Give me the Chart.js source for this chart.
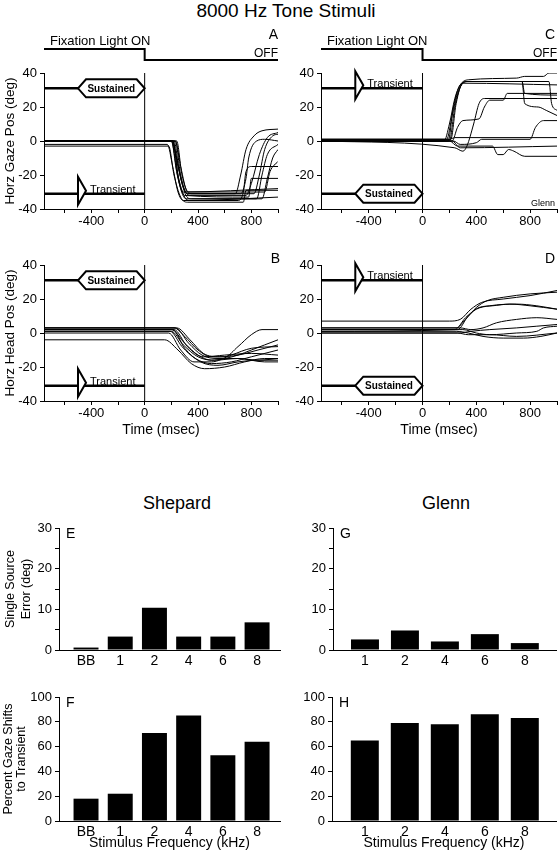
<!DOCTYPE html>
<html>
<head>
<meta charset="utf-8">
<script src="https://cdn.jsdelivr.net/npm/chart.js@4.4.0/dist/chart.umd.min.js"></script>
<style>
  body { margin: 0; background: #fff; width: 558px; height: 852px; position: relative; overflow: hidden;
         font-family: "Liberation Sans", Arial, sans-serif; }
  canvas { position: absolute; }
  .t { position: absolute; color: #000; white-space: nowrap; text-align: center; line-height: 1; }
</style>
</head>
<body>
<div class="t" style="left:0;width:572px;top:1px;font-size:19px">8000 Hz Tone Stimuli</div>
<div class="t" style="left:77px;width:200px;top:494px;font-size:18px">Shepard</div>
<div class="t" style="left:346px;width:200px;top:494px;font-size:18px">Glenn</div>

<canvas id="chartA"></canvas>
<canvas id="chartB"></canvas>
<canvas id="chartC"></canvas>
<canvas id="chartD"></canvas>
<canvas id="chartE"></canvas>
<canvas id="chartF"></canvas>
<canvas id="chartG"></canvas>
<canvas id="chartH"></canvas>

<script>
// ---- data ----
// gaze / head traces: [time (msec), position (deg)]
const gazeShepard = [
  [[-755, 0], [200, 0], [240, -10], [280, -25], [320, -31], [680, -31], [720, -20], [760, -5], [820, 3], [880, 6], [1000, 7]],
  [[-755, 0], [210, 0], [250, -15], [300, -29], [340, -32], [760, -32], [800, -25], [860, -8], [920, 2], [1000, 5]],
  [[-755, -2], [170, -2], [210, -15], [250, -30], [290, -35], [700, -35], [740, -30], [760, -18], [800, -15], [1000, -15]],
  [[-755, 0], [230, 0], [270, -15], [320, -30], [360, -31], [820, -31], [860, -20], [900, -5], [960, 3], [1000, 4]],
  [[-755, 0], [220, 0], [260, -18], [310, -32], [350, -34], [880, -34], [920, -22], [960, -10], [1000, -5]],
  [[-755, 0], [240, 0], [280, -20], [330, -30], [900, -30], [940, -18], [1000, -12]],
  [[-755, -3], [180, -3], [220, -20], [270, -33], [320, -36], [740, -36], [760, -29], [1000, -29]],
  [[-755, 0], [200, 0], [250, -22], [300, -32], [780, -33], [800, -22], [1000, -22]],
  [[-755, 0], [210, 0], [250, -20], [300, -33], [340, -35], [1000, -33]],
  [[-755, 0], [200, 0], [240, -18], [290, -30], [1000, -28]],
  [[-755, 0], [230, 0], [270, -20], [320, -31], [720, -31], [760, -22], [780, -10], [840, 0], [900, 1], [1000, 0]],
  [[-755, 0], [210, 0], [260, -25], [310, -34], [840, -34], [880, -20], [920, -8], [1000, -2]]
];
const headShepard = [
  [[-755, 3], [220, 3], [300, -2], [400, -10], [500, -14], [600, -14], [700, -8], [800, -1], [880, 2], [1000, 2]],
  [[-755, 2], [200, 2], [300, -6], [400, -13], [500, -16], [600, -15], [700, -13], [800, -10], [900, -7], [1000, -4]],
  [[-755, 1], [190, 1], [280, -8], [380, -15], [500, -18], [650, -17], [800, -14], [1000, -10]],
  [[-755, -4], [150, -4], [250, -10], [350, -18], [450, -21], [600, -20], [750, -17], [900, -15], [1000, -15]],
  [[-755, 3], [230, 3], [330, -6], [430, -13], [550, -15], [700, -15], [850, -16], [1000, -15]],
  [[-755, 2], [210, 2], [300, -9], [420, -17], [550, -19], [700, -17], [850, -16], [1000, -16]],
  [[-755, 0], [180, 0], [270, -10], [370, -17], [500, -17], [650, -13], [800, -9], [1000, -8]],
  [[-755, 3], [240, 3], [340, -4], [440, -12], [560, -14], [700, -13], [850, -10], [1000, -7]],
  [[-755, 1], [200, 1], [290, -7], [400, -14], [520, -16], [700, -15], [900, -17], [1000, -17]],
  [[-755, 2], [220, 2], [320, -8], [440, -14], [600, -13], [800, -12], [1000, -13]]
];
const gazeGlenn = [
  [[-755, 0], [160, 0], [200, 10], [240, 25], [280, 33], [340, 36], [700, 37], [760, 38], [900, 38], [940, 40], [1000, 40]],
  [[-755, 1], [180, 1], [220, 15], [260, 28], [320, 35], [740, 35], [760, 28], [1000, 27]],
  [[-755, 0], [200, 0], [240, 20], [290, 33], [340, 35], [940, 35], [960, 22], [1000, 18]],
  [[-755, 1], [210, 1], [250, 22], [300, 34], [1000, 33]],
  [[-755, 0], [220, 0], [260, 8], [300, 12], [420, 13], [460, 20], [500, 24], [600, 24], [630, 28], [1000, 28]],
  [[-755, 0], [240, -4], [300, -6], [330, -3], [380, 10], [420, 22], [460, 25], [1000, 25]],
  [[-755, 0], [230, 0], [280, -2], [400, -1], [440, 1], [800, 1], [840, 8], [900, 12], [1000, 12]],
  [[-755, 0], [200, 0], [260, -3], [520, -3], [560, -8], [600, -8], [640, -5], [680, -6], [760, -9], [1000, -9]],
  [[-755, 0], [220, 0], [280, -4], [1000, -3]],
  [[-755, 1], [200, 1], [240, 2], [1000, 2]],
  [[-755, 0], [190, 0], [230, 20], [280, 33], [340, 35], [740, 35], [760, 22], [860, 20], [920, 18], [1000, 15]]
];
const headGlenn = [
  [[-755, 7], [200, 7], [280, 8], [360, 14], [440, 18], [600, 20], [800, 22], [1000, 25]],
  [[-755, 3], [250, 3], [320, 8], [400, 15], [480, 19], [600, 21], [800, 23], [1000, 24]],
  [[-755, 2], [260, 2], [340, 10], [420, 15], [520, 16], [650, 17], [800, 16], [1000, 14]],
  [[-755, 1], [240, 2], [320, 9], [400, 14], [500, 16], [700, 17], [850, 16], [1000, 14]],
  [[-755, 3], [280, 3], [360, 2], [450, 3], [550, 6], [700, 8], [850, 9], [1000, 8]],
  [[-755, 0], [270, 0], [360, 1], [500, 2], [700, 3], [850, 4], [1000, 5]],
  [[-755, 1], [250, 1], [340, 0], [450, -2], [600, -3], [750, -3], [880, -2], [1000, 0]],
  [[-755, 2], [300, 2], [400, 0], [500, -1], [700, 0], [850, 1], [900, 3], [1000, 4]],
  [[-755, 0], [260, 0], [340, -1], [500, -1], [700, -2], [1000, 0]]
];

const timeLabels = [-400, 0, 400, 800];
const stimOnset = 0;        // msec, fixation light off
const stimStart = -500;     // msec, where the stimulus marker sits
const stimLevel = 31;       // deg, target positions (+/-)

const freqShepard = ["BB", "1", "2", "4", "6", "8"];
const errorShepard = [0.6, 3.3, 10.4, 3.3, 3.3, 6.8];
const transShepard = [18, 22, 71, 85, 53, 64];

const freqGlenn = ["1", "2", "4", "6", "8"];
const errorGlenn = [2.6, 4.8, 2.1, 3.9, 1.7];
const transGlenn = [65, 79, 78, 86, 83];

// ---- helpers ----
Chart.defaults.font.family = '"Liberation Sans", Arial, sans-serif';
Chart.defaults.color = "#000";
const black = "#000";

function place(id, r) {
  const c = document.getElementById(id);
  c.width = r.w; c.height = r.h;
  c.style.left = r.left + "px"; c.style.top = r.top + "px";
  c.style.width = r.w + "px"; c.style.height = r.h + "px";
  return c;
}

function drawStim(ctx, kind, left, xm, x0, yp) {
  ctx.lineWidth = 2.5;
  ctx.beginPath();
  ctx.moveTo(left, yp);
  ctx.lineTo(kind === "sus" ? xm : x0, yp);
  ctx.stroke();
  ctx.lineWidth = 2;
  ctx.beginPath();
  if (kind === "sus") {
    ctx.moveTo(xm, yp);
    ctx.lineTo(xm + 8, yp - 9);
    ctx.lineTo(x0 - 8, yp - 9);
    ctx.lineTo(x0, yp);
    ctx.lineTo(x0 - 8, yp + 9);
    ctx.lineTo(xm + 8, yp + 9);
    ctx.closePath();
    ctx.fillStyle = "#fff";
    ctx.fill();
    ctx.stroke();
    ctx.fillStyle = black;
    ctx.font = 'bold 10px "Liberation Sans"';
    ctx.textAlign = "center";
    ctx.textBaseline = "middle";
    ctx.fillText("Sustained", (xm + x0) / 2, yp + 0.5);
  } else {
    const yc = yp - 3;
    ctx.moveTo(xm, yc - 14);
    ctx.lineTo(xm + 8, yc);
    ctx.lineTo(xm, yc + 14);
    ctx.closePath();
    ctx.fillStyle = "#fff";
    ctx.fill();
    ctx.stroke();
    ctx.fillStyle = black;
    ctx.font = '11px "Liberation Sans"';
    ctx.textAlign = "left";
    ctx.textBaseline = "alphabetic";
    ctx.fillText("Transient", xm + 12, yp - 1);
  }
}

function timeDecor(o) {
  return {
    id: "timeDecor",
    afterDatasetsDraw(chart) {
      const { ctx, chartArea: a, scales: { x, y } } = chart;
      const x0 = x.getPixelForValue(stimOnset);
      const xm = x.getPixelForValue(stimStart);
      ctx.save();
      ctx.strokeStyle = black;
      ctx.fillStyle = black;
      ctx.lineWidth = 1;
      ctx.beginPath();
      ctx.moveTo(x0, a.top);
      ctx.lineTo(x0, a.bottom);
      ctx.stroke();
      drawStim(ctx, o.upper, a.left, xm, x0, y.getPixelForValue(stimLevel));
      drawStim(ctx, o.lower, a.left, xm, x0, y.getPixelForValue(-stimLevel));

      ctx.fillStyle = black;
      ctx.textBaseline = "alphabetic";
      if (o.fixation) {
        ctx.lineWidth = 2;
        ctx.beginPath();
        ctx.moveTo(a.left, a.top - 24);
        ctx.lineTo(x0, a.top - 24);
        ctx.lineTo(x0, a.top - 13);
        ctx.lineTo(a.right, a.top - 13);
        ctx.stroke();
        ctx.font = '13px "Liberation Sans"';
        ctx.textAlign = "left";
        ctx.fillText("Fixation Light ON", a.left + 6, a.top - 28);
        ctx.font = '12px "Liberation Sans"';
        ctx.textAlign = "right";
        ctx.fillText("OFF", a.right, a.top - 16);
      }
      ctx.font = '14px "Liberation Sans"';
      ctx.textAlign = "right";
      ctx.fillText(o.letter, a.right + o.letterDx, a.top + o.letterDy);
      if (o.note) {
        ctx.font = '9px "Liberation Sans"';
        ctx.fillText(o.note, a.right - 2, a.bottom - 3);
      }
      ctx.restore();
    }
  };
}

function timeChart(id, rect, area, traces, o) {
  const canvas = place(id, rect);
  const yW = area.left - rect.left;
  const xH = rect.top + rect.h - area.bottom;
  new Chart(canvas, {
    type: "line",
    data: {
      datasets: traces.map(t => ({
        data: t.map(p => ({ x: p[0], y: p[1] })),
        borderColor: black,
        borderWidth: 1,
        pointRadius: 0,
        cubicInterpolationMode: "monotone",
        fill: false
      }))
    },
    options: {
      responsive: false,
      animation: false,
      devicePixelRatio: 1,
      layout: { padding: { left: 0, top: area.top - rect.top, right: rect.left + rect.w - area.right, bottom: 0 } },
      plugins: { legend: { display: false }, tooltip: { enabled: false } },
      scales: {
        x: {
          type: "linear",
          min: -755, max: 1000,
          ticks: {
            stepSize: 200, includeBounds: false, autoSkip: false, maxRotation: 0,
            padding: 1, font: { size: 13 }, color: black,
            callback: v => (timeLabels.includes(v) ? v : "")
          },
          grid: { drawOnChartArea: false, tickLength: 4, color: black },
          border: { color: black },
          title: o.xTitle
            ? { display: true, text: o.xTitle, font: { size: 14 }, color: black, padding: { top: 0, bottom: 1 } }
            : { display: false },
          afterFit: s => { s.height = xH; }
        },
        y: {
          min: -40, max: 40,
          ticks: {
            stepSize: 10, padding: 3, font: { size: 13 }, color: black,
            callback: v => (v % 20 === 0 ? v : "")
          },
          grid: { drawOnChartArea: false, tickLength: 4, color: black },
          border: { color: black },
          title: o.yTitle
            ? { display: true, text: o.yTitle, font: { size: 13.5 }, color: black, padding: { top: 2, bottom: 0 } }
            : { display: false },
          afterFit: s => { s.width = yW; }
        }
      }
    },
    plugins: [timeDecor(o)]
  });
}

function barDecor(letter) {
  return {
    id: "barDecor",
    afterDraw(chart) {
      const { ctx, chartArea: a } = chart;
      ctx.save();
      ctx.fillStyle = black;
      ctx.font = '14px "Liberation Sans"';
      ctx.textAlign = "left";
      ctx.textBaseline = "alphabetic";
      ctx.fillText(letter, a.left + 7, a.top + 10);
      ctx.restore();
    }
  };
}

function barChart(id, rect, area, cats, vals, o) {
  const canvas = place(id, rect);
  const yW = area.left - rect.left;
  const xH = rect.top + rect.h - area.bottom;
  new Chart(canvas, {
    type: "bar",
    data: {
      datasets: [{
        data: vals.map((v, i) => ({ x: i, y: v })),
        backgroundColor: black,
        borderWidth: 0,
        categoryPercentage: 1,
        barPercentage: o.barPct
      }]
    },
    options: {
      responsive: false,
      animation: false,
      devicePixelRatio: 1,
      layout: { padding: { left: 0, top: area.top - rect.top, right: rect.left + rect.w - area.right, bottom: 0 } },
      plugins: { legend: { display: false }, tooltip: { enabled: false } },
      scales: {
        x: {
          type: "linear",
          offset: false,
          min: o.xMin, max: o.xMax,
          afterBuildTicks: s => { s.ticks = cats.map((c, i) => ({ value: i })); },
          ticks: {
            autoSkip: false, maxRotation: 0, padding: 3, font: { size: 14 }, color: black,
            callback: v => cats[v]
          },
          grid: { display: false, drawTicks: false, offset: false },
          border: { color: black },
          title: o.xTitle
            ? { display: true, text: o.xTitle, font: { size: 14 }, color: black, padding: { top: 0, bottom: 0 } }
            : { display: false },
          afterFit: s => { s.height = xH; }
        },
        y: {
          min: 0, max: o.yMax,
          ticks: {
            stepSize: o.yStep, padding: 3, font: { size: 13 }, color: black,
            callback: v => (v % o.labelStep === 0 ? v : "")
          },
          grid: { drawOnChartArea: false, tickLength: 4, color: black },
          border: { color: black },
          title: o.yTitle
            ? { display: true, text: o.yTitle, font: { size: 12.5, lineHeight: o.yLine }, color: black, padding: { top: 2, bottom: 0 } }
            : { display: false },
          afterFit: s => { s.width = yW; }
        }
      }
    },
    plugins: [barDecor(o.letter)]
  });
}

// ---- panels ----
timeChart("chartA", { left: 0, top: 20, w: 282, h: 222 }, { left: 44, top: 73, right: 278, bottom: 209 }, gazeShepard,
  { upper: "sus", lower: "tra", fixation: true, letter: "A", letterDx: 0, letterDy: -34, yTitle: "Horz Gaze Pos (deg)" });
timeChart("chartB", { left: 0, top: 240, w: 282, h: 200 }, { left: 44, top: 265, right: 278, bottom: 401 }, headShepard,
  { upper: "sus", lower: "tra", letter: "B", letterDx: 2, letterDy: -2, yTitle: "Horz Head Pos (deg)", xTitle: "Time (msec)" });
timeChart("chartC", { left: 280, top: 20, w: 278, h: 222 }, { left: 321, top: 73, right: 557, bottom: 209 }, gazeGlenn,
  { upper: "tra", lower: "sus", fixation: true, letter: "C", letterDx: -2, letterDy: -34, note: "Glenn" });
timeChart("chartD", { left: 280, top: 240, w: 278, h: 200 }, { left: 321, top: 265, right: 557, bottom: 401 }, headGlenn,
  { upper: "tra", lower: "sus", letter: "D", letterDx: -2, letterDy: -2, xTitle: "Time (msec)" });

barChart("chartE", { left: 0, top: 515, w: 282, h: 157 }, { left: 59, top: 528, right: 280, bottom: 650 }, freqShepard, errorShepard,
  { letter: "E", yMax: 30, yStep: 5, labelStep: 10, xMin: -0.79, xMax: 5.67, barPct: 0.73,
    yTitle: ["Single Source", "Error (deg)"], yLine: 1.3 });
barChart("chartF", { left: 0, top: 684, w: 282, h: 168 }, { left: 59, top: 697, right: 280, bottom: 821 }, freqShepard, transShepard,
  { letter: "F", yMax: 100, yStep: 20, labelStep: 20, xMin: -0.79, xMax: 5.67, barPct: 0.73,
    yTitle: ["Percent Gaze Shifts", "to Transient"], yLine: 1.05, xTitle: "Stimulus Frequency (kHz)" });
barChart("chartG", { left: 282, top: 515, w: 276, h: 157 }, { left: 333, top: 528, right: 556, bottom: 650 }, freqGlenn, errorGlenn,
  { letter: "G", yMax: 30, yStep: 5, labelStep: 10, xMin: -0.8, xMax: 4.78, barPct: 0.7 });
barChart("chartH", { left: 282, top: 684, w: 276, h: 168 }, { left: 332, top: 697, right: 556, bottom: 821 }, freqGlenn, transGlenn,
  { letter: "H", yMax: 100, yStep: 20, labelStep: 20, xMin: -0.82, xMax: 4.78, barPct: 0.7,
    xTitle: "Stimulus Frequency (kHz)" });
</script>
</body>
</html>
